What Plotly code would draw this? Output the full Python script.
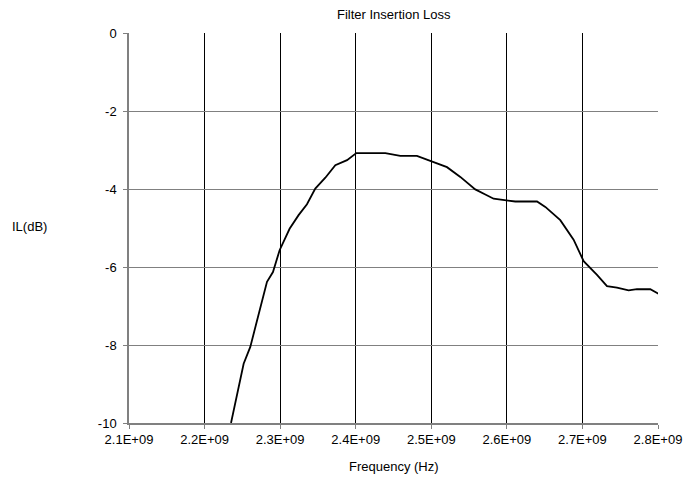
import plotly.graph_objects as go

freq_ghz = [2.235, 2.2517, 2.2605, 2.2826, 2.2905, 2.2993, 2.3125, 2.3244, 2.3355,
            2.3465, 2.3598, 2.3730, 2.3885, 2.4008, 2.4392, 2.459, 2.481, 2.4987,
            2.5208, 2.5384, 2.5582, 2.5715, 2.5825, 2.6112, 2.6399, 2.6509, 2.6707,
            2.6883, 2.7016, 2.7193, 2.7325, 2.7457, 2.7611, 2.7722, 2.7898, 2.803]
il_db = [-10.0, -8.48, -8.05, -6.38, -6.13, -5.57, -5.02, -4.67, -4.39,
         -3.99, -3.71, -3.39, -3.26, -3.08, -3.08, -3.15, -3.15, -3.27,
         -3.44, -3.69, -4.01, -4.14, -4.25, -4.32, -4.32, -4.46, -4.80,
         -5.30, -5.85, -6.20, -6.49, -6.53, -6.60, -6.57, -6.57, -6.71]

x_tick_vals = [2.1e9, 2.2e9, 2.3e9, 2.4e9, 2.5e9, 2.6e9, 2.7e9, 2.8e9]
x_tick_text = ["2.1E+09", "2.2E+09", "2.3E+09", "2.4E+09", "2.5E+09", "2.6E+09", "2.7E+09", "2.8E+09"]
y_tick_vals = [0, -2, -4, -6, -8, -10]
y_tick_text = ["0", "-2", "-4", "-6", "-8", "-10"]

freq_hz = [f * 1e9 for f in freq_ghz]

FONT = "Liberation Sans, Arial, sans-serif"

W, H = 685, 479
L, R, T, B = 121, 35, 25, 64
PW = W - L - R
PH = H - T - B

fig = go.Figure()
fig.add_trace(go.Scatter(x=freq_hz, y=il_db, mode="lines",
                         line=dict(color="black", width=1.8),
                         showlegend=False))

fig.update_layout(
    width=W, height=H,
    margin=dict(l=L, r=R, t=T, b=B),
    paper_bgcolor="white", plot_bgcolor="white",
    font=dict(family=FONT, size=13, color="black"),
    xaxis=dict(range=[2.1e9, 2.8e9], tickvals=x_tick_vals, ticktext=x_tick_text,
               showgrid=True, gridcolor="black", gridwidth=1,
               showline=True, linecolor="#808080", linewidth=1.5,
               ticks="outside", ticklen=4, tickcolor="#808080", zeroline=False,
               tickfont=dict(size=13)),
    yaxis=dict(range=[-10, 0], tickvals=y_tick_vals, ticktext=y_tick_text,
               showgrid=True, gridcolor="#808080", gridwidth=1,
               showline=True, linecolor="#808080", linewidth=1.5,
               ticks="outside", ticklen=4, tickcolor="#808080", zeroline=False,
               ticklabelstandoff=4, tickfont=dict(size=13)),
    annotations=[
        dict(text="Filter Insertion Loss", xref="paper", yref="paper",
             x=0.5, y=1 + (T - 6.5) / PH, xanchor="center", yanchor="middle",
             showarrow=False, font=dict(size=13)),
        dict(text="Frequency (Hz)", xref="paper", yref="paper",
             x=0.5, y=-43 / PH, xanchor="center", yanchor="middle",
             showarrow=False, font=dict(size=13)),
        dict(text="IL(dB)", xref="paper", yref="paper",
             x=-(L - 2) / PW, y=0.5 + 1.5 / PH, xanchor="left", yanchor="middle",
             showarrow=False, font=dict(size=13)),
    ],
)

fig.write_html("out.html")
